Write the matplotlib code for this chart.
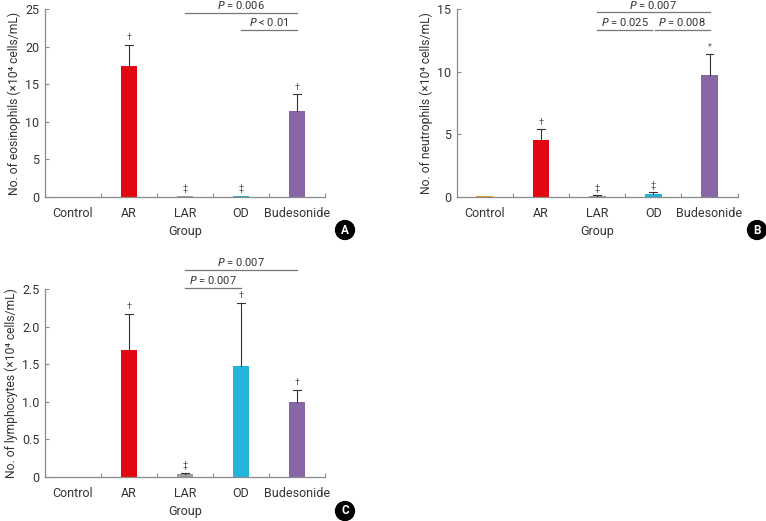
import numpy as np
import matplotlib
matplotlib.use("Agg")
import matplotlib.pyplot as plt

plt.rcParams['font.family'] = ['Roboto', 'DejaVu Sans']

GROUPS = ['Control', 'AR', 'LAR', 'OD', 'Budesonide']
COLORS = ['#E89A3C', '#E30613', '#9D9D9D', '#22B4DA', '#8767A6']

# panel A: eosinophils
eos_mean = [0.0, 17.45, 0.1, 0.1, 11.5]
eos_top = [0.0, 20.2, 0.1, 0.1, 13.65]
eos_mark = ['', '\u2020', '\u2021', '\u2021', '\u2020']

# panel B: neutrophils
neu_mean = [0.05, 4.55, 0.08, 0.27, 9.73]
neu_top = [0.05, 5.4, 0.13, 0.37, 11.4]
neu_mark = ['', '\u2020', '\u2021', '\u2021', '*']

# panel C: lymphocytes
lym_mean = [0.0, 1.685, 0.036, 1.48, 1.0]
lym_top = [0.0, 2.17, 0.05, 2.32, 1.16]
lym_mark = ['', '\u2020', '\u2021', '\u2020', '\u2020']

# significance brackets: (x from, x to, y line, label)
eos_sig = [(2, 4, 24.45, '0.006', '='), (3, 4, 22.2, '0.01', '<')]
neu_sig = [(2, 4, 14.74, '0.007', '='), (2, 2.97, 13.33, '0.025', '='),
           (3.03, 4, 13.33, '0.008', '=')]
lym_sig = [(2, 4, 2.756, '0.007', '='), (2, 3, 2.52, '0.007', '=')]

AXIS_COLOR = '#8a8a8a'


def draw_panel(ax, means, tops, marks, sigs, ymax, yticks, yticklabels, ylabel):
    x = np.arange(len(GROUPS))
    ax.bar(x, means, width=0.3, color=COLORS, zorder=2)

    # error bars (upper only)
    for xi, m, t in zip(x, means, tops):
        if t > m:
            ax.plot([xi, xi], [m, t], color='#333333', lw=0.8, zorder=3)
            ax.plot([xi - 0.07, xi + 0.07], [t, t], color='#333333', lw=0.8, zorder=3)

    # significance symbols
    for xi, t, s in zip(x, tops, marks):
        if s:
            ax.annotate(s, (xi, t), xytext=(0, 2), textcoords='offset points',
                        ha='center', va='bottom', fontsize=6.5, color='#555555')

    # p-value brackets
    for x0, x1, y, val, op in sigs:
        ax.plot([x0, x1], [y, y], color='#777777', lw=0.9, clip_on=False)
        ax.annotate(r'$\it{P}$ ' + op + ' ' + val, ((x0 + x1) / 2, y),
                    xytext=(0, 1.2), textcoords='offset points',
                    ha='center', va='bottom', fontsize=8, color='#333333',
                    annotation_clip=False)

    ax.set_xlim(-0.5, len(GROUPS) - 0.5)
    ax.set_ylim(0, ymax)
    ax.set_xticks(x)
    ax.set_xticklabels(GROUPS, fontsize=9, color='#333333')
    ax.set_xticks(np.arange(len(GROUPS)) + 0.5, minor=True)
    ax.tick_params(axis='x', which='major', length=0, pad=7)
    ax.tick_params(axis='x', which='minor', direction='in', length=3,
                   color=AXIS_COLOR, width=0.8)
    ax.set_yticks(yticks)
    ax.set_yticklabels(yticklabels, fontsize=9, color='#333333')
    ax.tick_params(axis='y', direction='in', length=3, color=AXIS_COLOR,
                   width=0.8, pad=4)
    ax.set_xlabel('Group', fontsize=9, color='#333333', labelpad=4)
    ax.set_ylabel(ylabel, fontsize=8.7, color='#333333', labelpad=3)
    for side in ['top', 'right']:
        ax.spines[side].set_visible(False)
    for side in ['left', 'bottom']:
        ax.spines[side].set_color(AXIS_COLOR)
        ax.spines[side].set_linewidth(0.9)


fig = plt.figure(figsize=(7.66, 5.21), dpi=100)
ax_a = fig.add_axes([0.0587, 0.6219, 0.3655, 0.3608])
ax_b = fig.add_axes([0.5962, 0.6219, 0.3668, 0.3608])
ax_c = fig.add_axes([0.0587, 0.0845, 0.3655, 0.3603])

draw_panel(ax_a, eos_mean, eos_top, eos_mark, eos_sig, 25,
           [0, 5, 10, 15, 20, 25], ['0', '5', '10', '15', '20', '25'],
           'No. of eosinophils (\u00d710\u2074 cells/mL)')
draw_panel(ax_b, neu_mean, neu_top, neu_mark, neu_sig, 15,
           [0, 5, 10, 15], ['0', '5', '10', '15'],
           'No. of neutrophils (\u00d710\u2074 cells/mL)')
draw_panel(ax_c, lym_mean, lym_top, lym_mark, lym_sig, 2.5,
           [0, 0.5, 1.0, 1.5, 2.0, 2.5], ['0', '0.5', '1.0', '1.5', '2.0', '2.5'],
           'No. of lymphocytes (\u00d710\u2074 cells/mL)')

# panel letters
for letter, (px, py) in zip('ABC', [(345, 230), (757, 230), (345, 511)]):
    fig.text(px / 766, 1 - py / 521, letter, ha='center', va='center',
             fontsize=8.5, fontweight='bold', color='white',
             bbox=dict(boxstyle='circle,pad=0.25', fc='black', ec='black'))

fig.savefig('out.png', dpi=100)
